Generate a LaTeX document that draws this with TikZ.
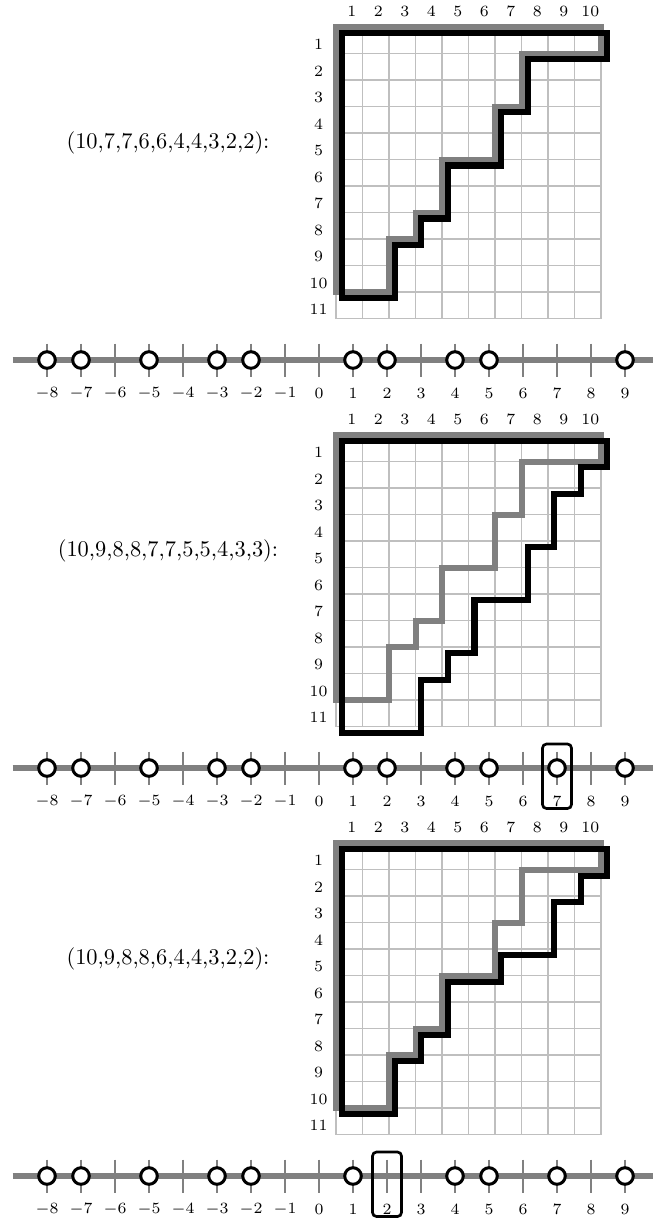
\documentclass[tikz,border=0pt]{standalone}
\begin{document}
\begin{tikzpicture}[x=0.4464pt, y=-0.4464pt,
  gridline/.style={draw=black!25, line width=0.6pt},
  graypath/.style={draw=black!50, line width=2.68pt},
  blackpath/.style={draw=black, line width=2.68pt},
  numline/.style={draw=black!50, line width=2.46pt},
  tickline/.style={draw=black!50, line width=1.03pt},
  maya/.style={circle, draw=black, fill=white, line width=1.34pt, minimum size=7.4pt, inner sep=0pt},
  selbox/.style={draw=black, line width=1.2pt, rounded corners=1.8pt},
  lab/.style={font=\scriptsize, inner sep=0pt},
  cell/.style={x=11.83pt, y=-11.83pt}]
\useasboundingbox (0,0) rectangle (653,1218);

% ---------- Panel 1 ----------
\begin{scope}[shift={(336,27)}, cell]
  \foreach \i in {0,...,10} \draw[gridline] (\i,0) -- (\i,11);
  \foreach \j in {0,...,11} \draw[gridline] (0,\j) -- (10,\j);
  \foreach \i in {1,...,10} \node[lab] (pac\i) at (\i-0.5+0.094,-0.58) {\i};
  \foreach \j in {1,...,11} \node[lab] (par\j) at (-0.66,\j-0.5+0.17) {\j};
  \draw[graypath] (0,0) -- (10,0) -- (10,1) -- (7,1) -- (7,3) -- (6,3) -- (6,5) -- (4,5) -- (4,7) -- (3,7) -- (3,8) -- (2,8) -- (2,10) -- (0,10) -- cycle;
  \draw[blackpath, shift={(0.226,0.226)}] (0,0) -- (10,0) -- (10,1) -- (7,1) -- (7,3) -- (6,3) -- (6,5) -- (4,5) -- (4,7) -- (3,7) -- (3,8) -- (2,8) -- (2,10) -- (0,10) -- cycle;
\end{scope}
\node (lbla) at (168,143) {(10,7,7,6,6,4,4,3,2,2):};
\draw[numline] (12.7,360) -- (653,360);
\foreach \k [count=\c] in {-8,...,9} {
  \draw[tickline] ({319+34*\k},343.5) -- ({319+34*\k},376.5);
  \node[lab] (pan\c) at ({319+34*\k},393) {$\k$};
}
\foreach \k [count=\c] in {-8,-7,-5,-3,-2,1,2,4,5,9} \node[maya] (pam\c) at ({319+34*\k},360) {};

% ---------- Panel 2 ----------
\begin{scope}[shift={(336,435)}, cell]
  \foreach \i in {0,...,10} \draw[gridline] (\i,0) -- (\i,11);
  \foreach \j in {0,...,11} \draw[gridline] (0,\j) -- (10,\j);
  \foreach \i in {1,...,10} \node[lab] (pbc\i) at (\i-0.5+0.094,-0.58) {\i};
  \foreach \j in {1,...,11} \node[lab] (pbr\j) at (-0.66,\j-0.5+0.17) {\j};
  \draw[graypath] (0,0) -- (10,0) -- (10,1) -- (7,1) -- (7,3) -- (6,3) -- (6,5) -- (4,5) -- (4,7) -- (3,7) -- (3,8) -- (2,8) -- (2,10) -- (0,10) -- cycle;
  \draw[blackpath, shift={(0.226,0.226)}] (0,0) -- (10,0) -- (10,1) -- (9,1) -- (9,2) -- (8,2) -- (8,4) -- (7,4) -- (7,6) -- (5,6) -- (5,8) -- (4,8) -- (4,9) -- (3,9) -- (3,11) -- (0,11) -- cycle;
\end{scope}
\node (lblb) at (168,551) {(10,9,8,8,7,7,5,5,4,3,3):};
\draw[numline] (12.7,768) -- (653,768);
\foreach \k [count=\c] in {-8,...,9} {
  \draw[tickline] ({319+34*\k},751.5) -- ({319+34*\k},784.5);
  \node[lab] (pbn\c) at ({319+34*\k},801) {$\k$};
}
\foreach \k [count=\c] in {-8,-7,-5,-3,-2,1,2,4,5,7,9} \node[maya] (pbm\c) at ({319+34*\k},768) {};
\draw[selbox] ({319+34*7-14.5},744) rectangle ({319+34*7+14.5},808.5);

% ---------- Panel 3 ----------
\begin{scope}[shift={(336,843)}, cell]
  \foreach \i in {0,...,10} \draw[gridline] (\i,0) -- (\i,11);
  \foreach \j in {0,...,11} \draw[gridline] (0,\j) -- (10,\j);
  \foreach \i in {1,...,10} \node[lab] (pcc\i) at (\i-0.5+0.094,-0.58) {\i};
  \foreach \j in {1,...,11} \node[lab] (pcr\j) at (-0.66,\j-0.5+0.17) {\j};
  \draw[graypath] (0,0) -- (10,0) -- (10,1) -- (7,1) -- (7,3) -- (6,3) -- (6,5) -- (4,5) -- (4,7) -- (3,7) -- (3,8) -- (2,8) -- (2,10) -- (0,10) -- cycle;
  \draw[blackpath, shift={(0.226,0.226)}] (0,0) -- (10,0) -- (10,1) -- (9,1) -- (9,2) -- (8,2) -- (8,4) -- (6,4) -- (6,5) -- (4,5) -- (4,7) -- (3,7) -- (3,8) -- (2,8) -- (2,10) -- (0,10) -- cycle;
\end{scope}
\node (lblc) at (168,959) {(10,9,8,8,6,4,4,3,2,2):};
\draw[numline] (12.7,1176) -- (653,1176);
\foreach \k [count=\c] in {-8,...,9} {
  \draw[tickline] ({319+34*\k},1159.5) -- ({319+34*\k},1192.5);
  \node[lab] (pcn\c) at ({319+34*\k},1209) {$\k$};
}
\foreach \k [count=\c] in {-8,-7,-5,-3,-2,1,4,5,7,9} \node[maya] (pcm\c) at ({319+34*\k},1176) {};
\draw[selbox] ({319+34*2-14.5},1152) rectangle ({319+34*2+14.5},1216.5);
\end{tikzpicture}
\end{document}
